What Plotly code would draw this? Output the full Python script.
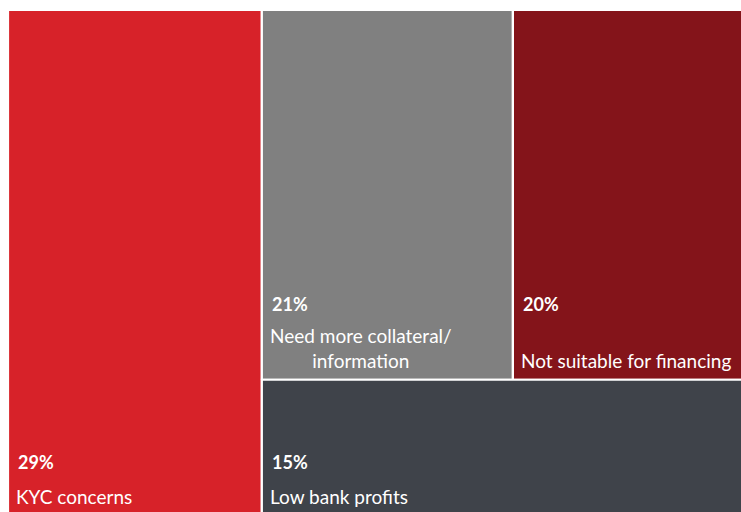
import plotly.graph_objects as go

# Reasons for rejected trade finance applications (share of responses, %)
labels = ["KYC concerns", "Need more collateral/<br>information",
          "Not suitable for financing", "Low bank profits"]
values = [29, 21, 20, 15]
colors = ["#D72229", "#808080", "#84141A", "#3F434A"]

# Tiling: first item fills a left column, the rest fill the right column
# in rows (row 1: items 1 and 2, row 2: item 3).
rows = [[1, 2], [3]]

total = sum(values)
rects = {}
x_split = values[0] / total
rects[0] = (0.0, x_split, 0.0, 1.0)
right_total = sum(values[i] for r in rows for i in r)
y_top = 1.0
for r in rows:
    row_total = sum(values[i] for i in r)
    h = row_total / right_total
    x = x_split
    for i in r:
        w = (1.0 - x_split) * values[i] / row_total
        rects[i] = (x, x + w, y_top - h, y_top)
        x += w
    y_top -= h

x_range = [0, 733 / 744]
y_range = [1 - 502 / 505, 1]

# pixel offsets of the value text above the visible bottom edge of each tile
pct_lift = {0: 50, 1: 76, 2: 76, 3: 50}
name_lift = {0: 2, 1: 6, 2: 6, 3: 2}
font_family = "Lato, Open Sans, sans-serif"

fig = go.Figure()
for i, (x0, x1, y0, y1) in rects.items():
    fig.add_trace(go.Scatter(
        x=[x0, x1, x1, x0, x0], y=[y0, y0, y1, y1, y0],
        mode="lines", fill="toself", fillcolor=colors[i],
        line=dict(color="white", width=2.2),
        hoverinfo="skip", showlegend=False))
    y_vis = max(y0, y_range[0])
    fig.add_annotation(
        x=x0, y=y_vis, xref="x", yref="y", text=f"<b>{values[i]}%</b>",
        showarrow=False, xanchor="left", yanchor="middle",
        xshift=8, yshift=pct_lift[i],
        font=dict(family=font_family, size=18, color="white"))
    fig.add_annotation(
        x=x0, y=y_vis, xref="x", yref="y", text=labels[i],
        showarrow=False, xanchor="left", yanchor="bottom", align="center",
        xshift=6, yshift=name_lift[i],
        font=dict(family=font_family, size=19, color="white"))

fig.update_layout(
    width=741, height=512,
    margin=dict(l=8, r=0, t=10, b=0),
    paper_bgcolor="white", plot_bgcolor="white",
    xaxis=dict(range=x_range, visible=False, fixedrange=True),
    yaxis=dict(range=y_range, visible=False, fixedrange=True),
)

fig.write_html("out.html")
